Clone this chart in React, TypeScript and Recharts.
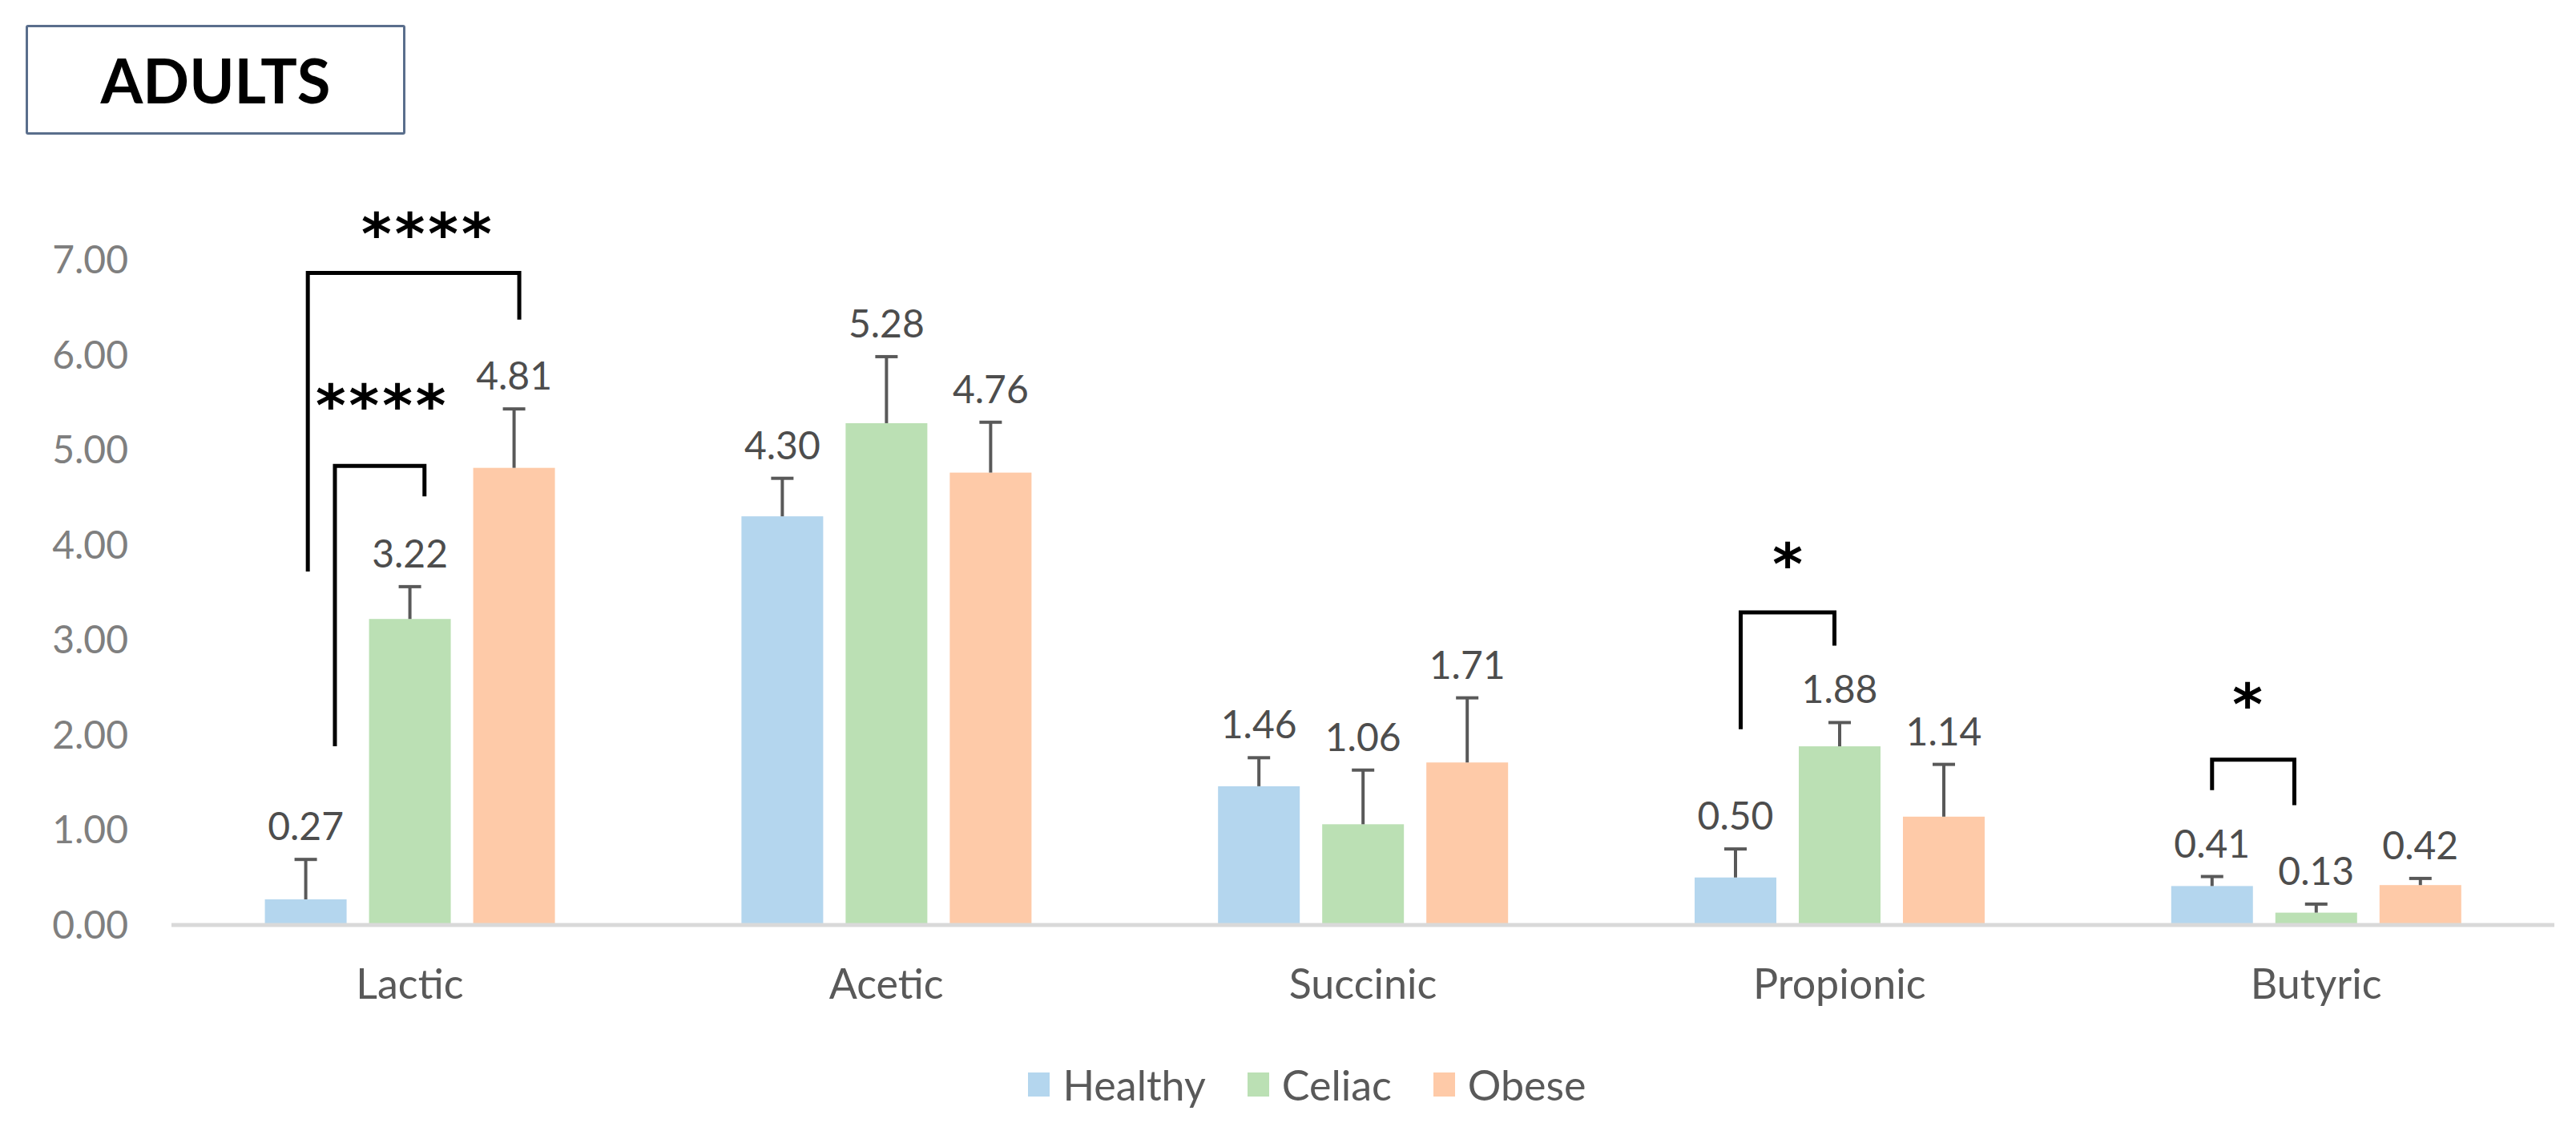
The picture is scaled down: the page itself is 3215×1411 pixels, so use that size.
import React from "react";
import { BarChart, Bar, XAxis, YAxis, Legend } from "recharts";

const categories = ["Lactic", "Acetic", "Succinic", "Propionic", "Butyric"];
const seriesNames = ["Healthy", "Celiac", "Obese"];
const healthy = [0.27, 4.3, 1.46, 0.5, 0.41];
const celiac = [3.22, 5.28, 1.06, 1.88, 0.13];
const obese = [4.81, 4.76, 1.71, 1.14, 0.42];
const healthyErr = [0.42, 0.4, 0.3, 0.3, 0.1];
const celiacErr = [0.34, 0.7, 0.57, 0.25, 0.09];
const obeseErr = [0.62, 0.53, 0.68, 0.55, 0.07];
const yTicks = [0, 1, 2, 3, 4, 5, 6, 7];

// significance brackets: cat = category index, x in bar slots (0 = Healthy, 1 = Celiac, 2 = Obese), y in data units
const brackets = [
  { cat: 0, label: "****", x1: 0.02, x2: 2.05, top: 6.86, left: 3.72, right: 6.37, starX: 1.16, starY: 7.37 },
  { cat: 0, label: "****", x1: 0.28, x2: 1.14, top: 4.83, left: 1.88, right: 4.51, starX: 0.72, starY: 5.56 },
  { cat: 3, label: "*", x1: 0.05, x2: 0.95, top: 3.29, left: 2.06, right: 2.94, starX: 0.5, starY: 3.89 },
  { cat: 4, label: "*", x1: 0.0, x2: 0.79, top: 1.74, left: 1.42, right: 1.26, starX: 0.34, starY: 2.42 },
];

const data = categories.map((name, i) => ({
  name,
  Healthy: healthy[i],
  Celiac: celiac[i],
  Obese: obese[i],
  healthyErr: healthyErr[i],
  celiacErr: celiacErr[i],
  obeseErr: obeseErr[i],
}));

const FONT = "Lato, 'Open Sans', sans-serif";
const BAR_GAP = 28;

const makeShape = (key: string, errKey: string, slot: number) => (props: any) => {
  const { x, y, width, height, fill, payload, index } = props;
  const v = payload[key];
  const pxPerUnit = v ? height / v : 0;
  const base = y + height;
  const toY = (val: number) => base - val * pxPerUnit;
  const cx = x + width / 2;
  const top = toY(v + payload[errKey]);
  const slotX = (s: number) => cx + (s - slot) * (width + BAR_GAP);
  const marks = slot === 2 ? brackets.filter((b) => b.cat === index) : [];
  return (
    <g>
      <rect x={x} y={y} width={width} height={height} fill={fill} />
      <line x1={cx} y1={y} x2={cx} y2={top} stroke="#595959" strokeWidth={4} />
      <line x1={cx - 14} y1={top} x2={cx + 14} y2={top} stroke="#595959" strokeWidth={4} />
      <text x={cx} y={top - 24} textAnchor="middle" fontSize={48} fontFamily={FONT} fill="#4D4D4D">
        {v.toFixed(2)}
      </text>
      {marks.map((b, i) => (
        <g key={i}>
          <polyline
            points={`${slotX(b.x1)},${toY(b.left)} ${slotX(b.x1)},${toY(b.top)} ${slotX(b.x2)},${toY(b.top)} ${slotX(b.x2)},${toY(b.right)}`}
            fill="none"
            stroke="#000"
            strokeWidth={5}
          />
          <text
            x={slotX(b.starX) + 2}
            y={toY(b.starY)}
            dy="0.51em"
            textAnchor="middle"
            fontSize={72}
            fontWeight="bold"
            fontFamily="'DejaVu Sans', sans-serif"
            letterSpacing={4}
            fill="#000"
          >
            {b.label}
          </text>
        </g>
      ))}
    </g>
  );
};

const LegendContent = (props: any) => {
  const items = [...(props.payload || [])].sort(
    (a: any, b: any) => seriesNames.indexOf(a.value) - seriesNames.indexOf(b.value)
  );
  return (
    <div
      style={{
        display: "flex",
        justifyContent: "center",
        alignItems: "center",
        height: 60,
        paddingLeft: 100,
        fontFamily: FONT,
        fontSize: 52,
        color: "#595959",
      }}
    >
      {items.map((p: any) => (
        <div key={p.value} style={{ display: "flex", alignItems: "center", marginRight: 52 }}>
          <div style={{ width: 27, height: 30, background: p.color, marginRight: 16 }} />
          <span>{p.value}</span>
        </div>
      ))}
    </div>
  );
};

export default function App() {
  return (
    <div style={{ position: "absolute", left: 0, top: 0, width: 3215, height: 1411, background: "#fff" }}>
      <BarChart
        width={3215}
        height={1411}
        data={data}
        margin={{ top: 324, right: 27, left: 0, bottom: 0 }}
        barCategoryGap="19.6%"
        barGap={BAR_GAP}
      >
        <XAxis
          dataKey="name"
          height={197}
          tickLine={false}
          tickSize={0}
          tickMargin={55}
          axisLine={{ stroke: "#D9D9D9", strokeWidth: 5 }}
          tick={{ fill: "#595959", fontSize: 52, fontFamily: FONT }}
        />
        <YAxis
          width={214}
          domain={[0, 7]}
          ticks={yTicks}
          axisLine={false}
          tickLine={false}
          tickSize={0}
          tickMargin={54}
          tickFormatter={(v: number) => v.toFixed(2)}
          tick={{ fill: "#7F7F7F", fontSize: 48, fontFamily: FONT }}
        />
        <Legend
          verticalAlign="bottom"
          content={LegendContent}
          wrapperStyle={{ top: 1323, left: 0, width: 3215 }}
        />
        <Bar dataKey="Healthy" fill="#B4D6EE" isAnimationActive={false} shape={makeShape("Healthy", "healthyErr", 0)} />
        <Bar dataKey="Celiac" fill="#BBE0B4" isAnimationActive={false} shape={makeShape("Celiac", "celiacErr", 1)} />
        <Bar dataKey="Obese" fill="#FECAA8" isAnimationActive={false} shape={makeShape("Obese", "obeseErr", 2)} />
      </BarChart>
      <div
        style={{
          position: "absolute",
          left: 32,
          top: 31,
          width: 468,
          height: 131,
          border: "3px solid #5A6E8C",
          borderRadius: 3,
          display: "flex",
          alignItems: "center",
          justifyContent: "center",
          fontFamily: FONT,
          fontWeight: "bold",
          fontSize: 76,
          color: "#000",
        }}
      >
        ADULTS
      </div>
    </div>
  );
}
